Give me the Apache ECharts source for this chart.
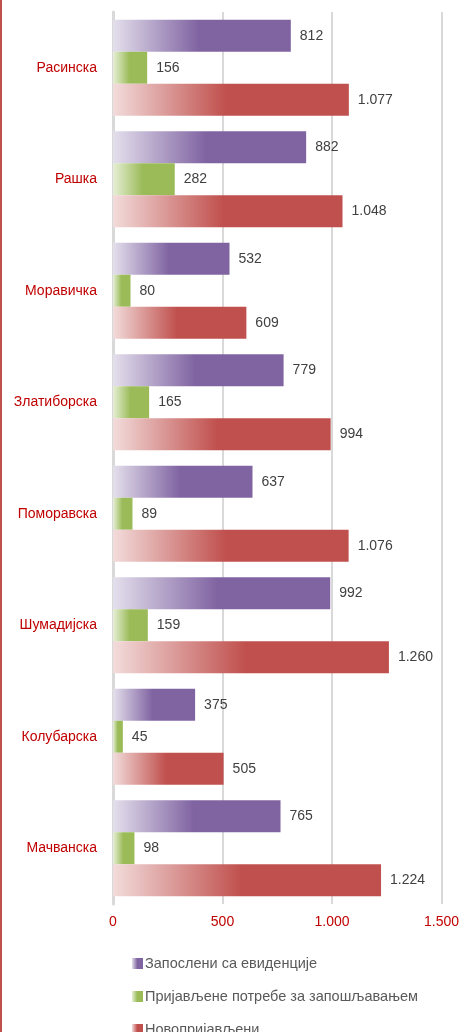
<!DOCTYPE html>
<html>
<head>
<meta charset="utf-8">
<script src="https://cdn.jsdelivr.net/npm/echarts@6/dist/echarts.min.js"></script>
<style>
  html, body { margin: 0; padding: 0; background: #fff; }
  #chart { width: 462px; height: 1032px; }
</style>
</head>
<body>
<div id="chart"></div>
<script>
  // okruzi, odozgo nadole
  const categories = ['Расинска', 'Рашка', 'Моравичка', 'Златиборска', 'Поморавска', 'Шумадијска', 'Колубарска', 'Мачванска'];
  const zaposleni = [812, 882, 532, 779, 637, 992, 375, 765];
  const potrebe = [156, 282, 80, 165, 89, 159, 45, 98];
  const novoprijavljeni = [1077, 1048, 609, 994, 1076, 1260, 505, 1224];
  const seriesNames = ['Запослени са евиденције', 'Пријављене потребе за запошљавањем', 'Новопријављени'];
  const xTicks = [0, 500, 1000, 1500];

  const font = '"Liberation Sans", Arial, sans-serif';

  function grad(light, dark) {
    return new echarts.graphic.LinearGradient(0, 0, 1, 0, [
      { offset: 0, color: light },
      { offset: 0.48, color: dark },
      { offset: 1, color: dark }
    ]);
  }

  // 1077 -> 1.077
  function fmt(v) {
    return String(v).replace(/\B(?=(\d{3})+(?!\d))/g, '.');
  }

  function barSeries(name, data, light, dark) {
    return {
      name: name,
      type: 'bar',
      data: data,
      barWidth: 32,
      barGap: '0%',
      itemStyle: { color: grad(light, dark) },
      label: {
        show: true,
        position: 'right',
        distance: 9,
        color: '#404040',
        fontSize: 14,
        fontFamily: font,
        formatter: p => fmt(p.value)
      }
    };
  }

  // legenda ide van okvira, pa svaka stavka posebno
  function legendItem(name, top) {
    return {
      left: 132,
      top: top,
      padding: 0,
      itemWidth: 11,
      itemHeight: 11,
      icon: 'rect',
      textStyle: { color: '#595959', fontSize: 14.5, fontFamily: font, padding: [0, 0, 0, -3] },
      data: [name]
    };
  }

  const chart = echarts.init(document.getElementById('chart'));
  chart.setOption({
    animation: false,
    grid: { left: 113, right: 19, top: 12, bottom: 128 },
    graphic: [{
      type: 'rect',
      shape: { x: 0, y: 0, width: 2, height: 1032 },
      style: { fill: '#c0504d' }
    }],
    legend: [
      legendItem(seriesNames[0], 956),
      legendItem(seriesNames[1], 989),
      legendItem(seriesNames[2], 1022)
    ],
    xAxis: {
      type: 'value',
      min: 0,
      max: 1500,
      interval: 500,
      axisLine: { show: false },
      axisTick: { show: false },
      splitLine: { lineStyle: { color: '#d9d9d9', width: 2 } },
      axisLabel: {
        color: '#c00000',
        fontSize: 14,
        fontFamily: font,
        margin: 11,
        formatter: v => xTicks.indexOf(v) >= 0 ? fmt(v) : ''
      }
    },
    yAxis: {
      type: 'category',
      inverse: true,
      data: categories,
      axisLine: { lineStyle: { color: '#d9d9d9', width: 3 } },
      axisTick: { show: false },
      axisLabel: { color: '#c00000', fontSize: 14, fontFamily: font, margin: 16 }
    },
    series: [
      barSeries(seriesNames[0], zaposleni, '#e4dfec', '#8064a2'),
      barSeries(seriesNames[1], potrebe, '#e6efd6', '#9bbb59'),
      barSeries(seriesNames[2], novoprijavljeni, '#f2dcdb', '#c0504d')
    ]
  });
</script>
</body>
</html>
